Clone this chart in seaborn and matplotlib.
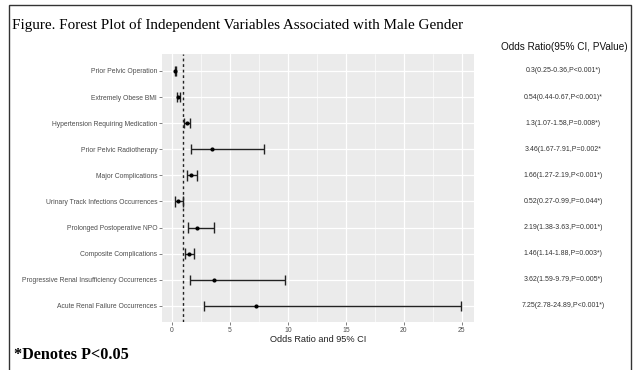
import matplotlib
matplotlib.use("Agg")
import matplotlib.pyplot as plt
from matplotlib.patches import Rectangle
import seaborn as sns
import pandas as pd

variables = [
    "Prior Pelvic Operation",
    "Extremely Obese BMI",
    "Hypertension Requiring Medication",
    "Prior Pelvic Radiotherapy",
    "Major Complications",
    "Urinary Track Infections Occurrences",
    "Prolonged Postoperative NPO",
    "Composite Complications",
    "Progressive Renal Insufficiency Occurrences",
    "Acute Renal Failure Occurrences",
]
odds_ratio = [0.3, 0.54, 1.3, 3.46, 1.66, 0.52, 2.19, 1.46, 3.62, 7.25]
ci_low = [0.25, 0.44, 1.07, 1.67, 1.27, 0.27, 1.38, 1.14, 1.59, 2.78]
ci_high = [0.36, 0.67, 1.58, 7.91, 2.19, 0.99, 3.63, 1.88, 9.79, 24.89]
p_text = ["P<0.001*)", "P<0.001)*", "P=0.008*)", "P=0.002*", "P<0.001*)",
          "P=0.044*)", "P=0.001*)", "P=0.003*)", "P=0.005*)", "P<0.001*)"]
x_ticks = [0, 5, 10, 15, 20, 25]

df = pd.DataFrame({"variable": variables, "or": odds_ratio,
                   "lo": ci_low, "hi": ci_high, "p": p_text})
df["row"] = range(len(df))
df["label"] = [f"{o:g}({l:g}-{h:g},{p}" for o, l, h, p in
               zip(df["or"], df["lo"], df["hi"], df["p"])]

sans = ["Liberation Sans", "DejaVu Sans"]
serif = ["Liberation Serif", "DejaVu Serif"]

sns.set_theme(style="darkgrid", rc={
    "axes.facecolor": "#EBEBEB",
    "grid.color": "white",
    "axes.edgecolor": "#EBEBEB",
})
plt.rcParams["font.family"] = sans

fig = plt.figure(figsize=(6.36, 3.70), dpi=100)
fig.patch.set_facecolor("white")
ax = fig.add_axes([162 / 636, 1 - 322 / 370, 312 / 636, 268 / 370])

# confidence intervals with end caps
cap = 0.2
ax.hlines(df["row"], df["lo"], df["hi"], color="#222222", lw=1.0, zorder=3)
ax.vlines(df["lo"], df["row"] - cap, df["row"] + cap, color="#222222", lw=1.0, zorder=3)
ax.vlines(df["hi"], df["row"] - cap, df["row"] + cap, color="#222222", lw=1.0, zorder=3)
sns.scatterplot(data=df, x="or", y="row", ax=ax, color="black", s=9,
                edgecolor="black", linewidth=0, zorder=4, legend=False)

# reference line at OR = 1
ax.axvline(1, color="#222222", lw=1.0, ls=(0, (2, 2)), zorder=2)

ax.set_xlim(-0.85, 26.05)
ax.set_ylim(len(df) - 0.38, -0.65)
ax.set_xticks(x_ticks)
ax.set_xticks([2.5, 7.5, 12.5, 17.5, 22.5], minor=True)
ax.set_yticks(df["row"])
ax.set_yticklabels(df["variable"])
ax.grid(True, which="major", color="white", lw=0.9)
ax.grid(True, which="minor", axis="x", color="white", lw=0.45)
ax.tick_params(axis="both", which="major", labelsize=4.9, labelcolor="#4D4D4D",
               color="#4D4D4D", length=2, width=0.5, pad=1.5,
               left=True, bottom=True)
ax.tick_params(which="minor", length=0)
for s in ax.spines.values():
    s.set_visible(False)
ax.set_ylabel("")
ax.set_xlabel("Odds Ratio and 95% CI", fontsize=6.6, color="#222222", labelpad=1)

# value column on the right
for r, txt in zip(df["row"], df["label"]):
    y_fig = ax.transData.transform((0, r))[1]
    fig.text(563 / 636, y_fig / fig.bbox.height, txt, ha="center", va="center",
             fontsize=5.0, color="#333333")
fig.text(628 / 636, 1 - 47 / 370, "Odds Ratio(95% CI, PValue)", ha="right",
         va="center", fontsize=7.2, color="#111111")

fig.text(12 / 636, 1 - 25 / 370,
         "Figure. Forest Plot of Independent Variables Associated with Male Gender",
         ha="left", va="center", fontsize=10.9, family=serif, color="black")
fig.text(14 / 636, 1 - 355 / 370, "*Denotes P<0.05", ha="left", va="center",
         fontsize=11.7, family=serif, weight="bold", color="black")

fig.add_artist(Rectangle((9 / 636, -0.1), 622 / 636, 1.1 - 5 / 370,
                         transform=fig.transFigure, fill=False,
                         edgecolor="#333333", lw=1.0))

fig.savefig("out.png", dpi=100)
